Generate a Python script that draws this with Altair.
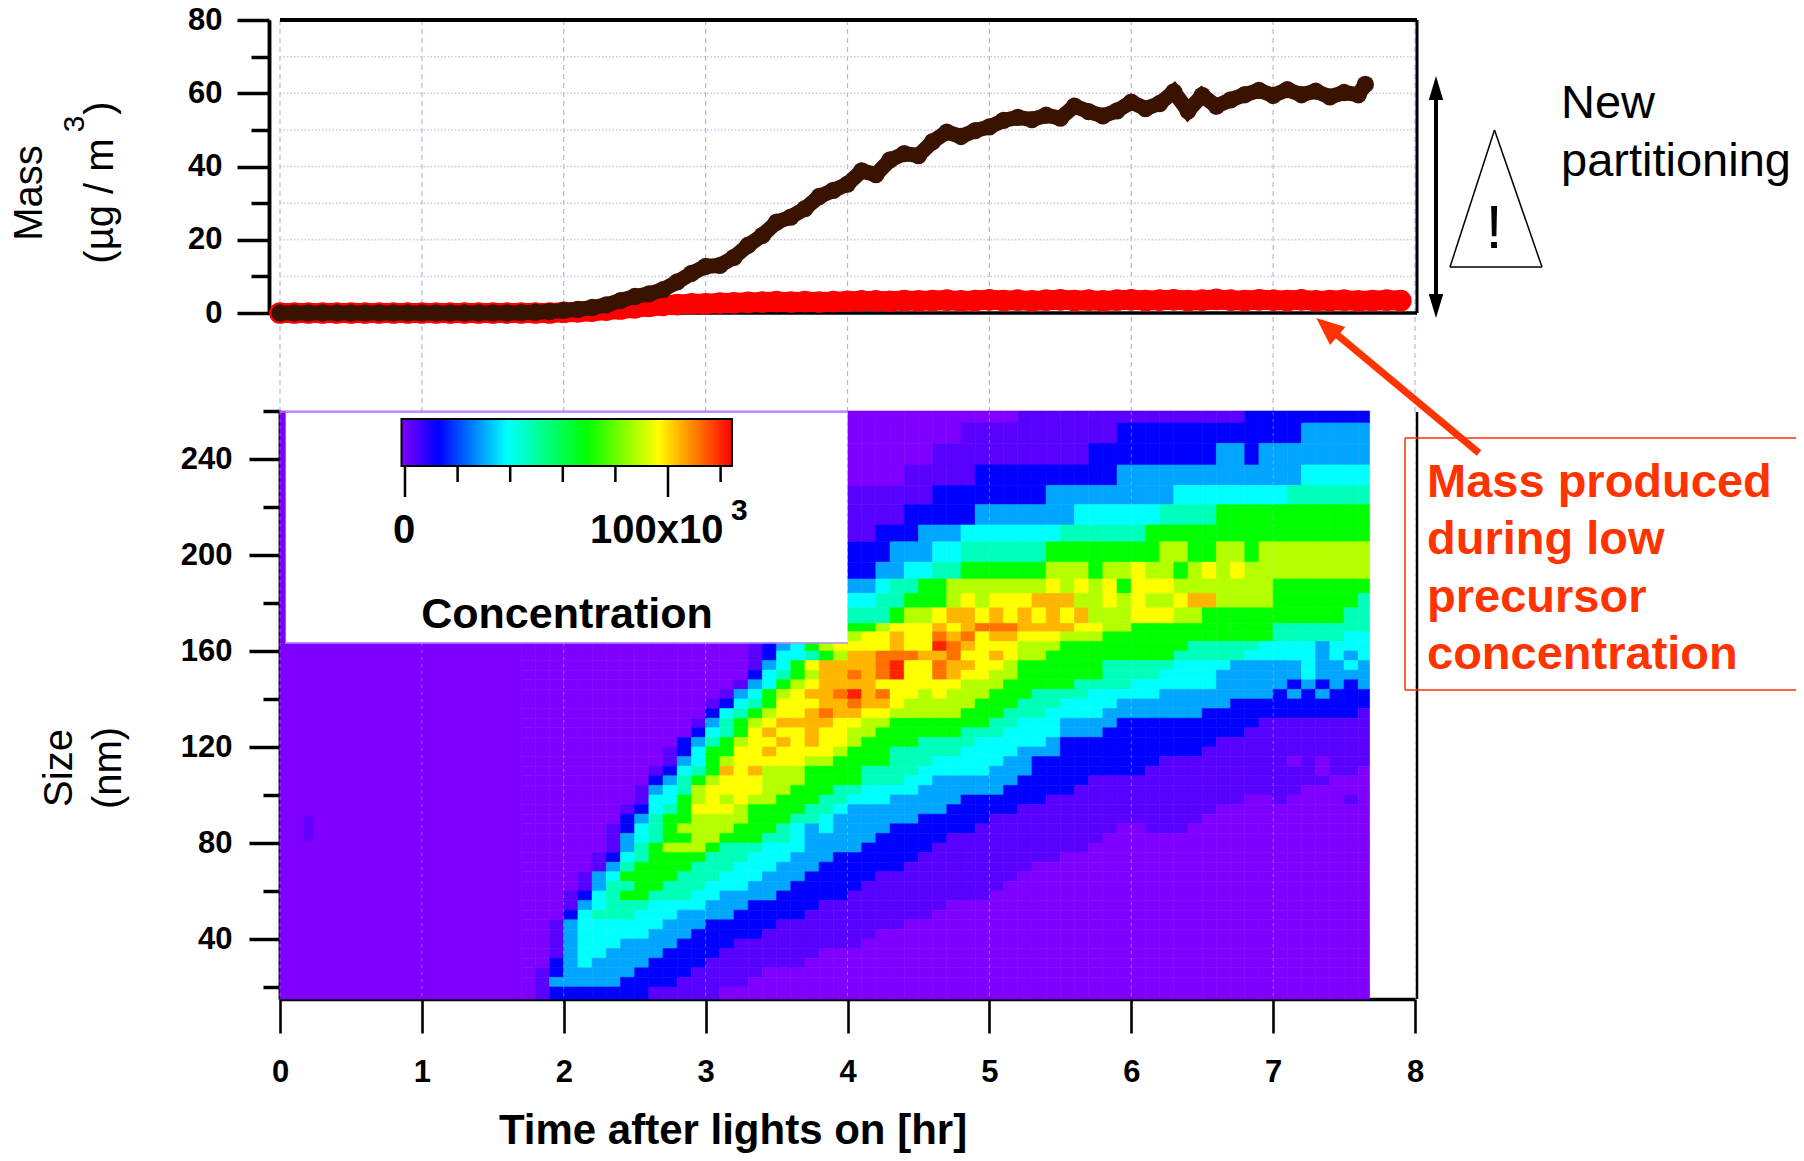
import altair as alt
import pandas as pd

# ---------- top panel values ----------
mass_dark = [0]*17 + [0.1, 0.2, 0.4,
    0.7, 1.0, 1.5, 2.2, 3.4, 4.5, 5.2, 6.4, 8.5, 10.8,
    12.7, 13.0, 15.2, 18.5, 21.2, 24.8, 26.2, 28.5, 31.8, 33.5,
    35.2, 38.8, 37.8, 41.8, 43.5, 43.0, 46.8, 49.4, 48.2, 49.8,
    50.8, 52.6, 53.4, 52.8, 54.0, 53.2, 56.5, 55.0, 53.8, 55.2,
    57.6, 55.8, 57.2, 60.4, 55.2, 59.4, 56.5, 58.2, 59.6, 60.8,
    59.4, 61.0, 59.6, 60.6, 59.0, 60.2, 59.6, 62.4]
mass_red = [0]*20 + [
    0.2, 0.3, 0.5, 0.8, 1.1, 1.4, 1.8, 2.1, 2.3, 2.5,
    2.5, 2.7, 2.8, 2.9, 3.0, 3.1, 3.0, 3.1, 3.0, 3.1,
    3.2, 3.3, 3.3, 3.2, 3.4, 3.3, 3.4, 3.5, 3.3, 3.4,
    3.6, 3.4, 3.5, 3.3, 3.5, 3.6, 3.4, 3.5, 3.3, 3.5,
    3.6, 3.4, 3.5, 3.6, 3.4, 3.5, 3.7, 3.5, 3.4, 3.6,
    3.5, 3.4, 3.6, 3.3, 3.4, 3.5, 3.3, 3.4, 3.5, 3.4]
mass_grid = [10, 20, 30, 40, 50, 60, 70]
mass_major = [0, 20, 40, 60, 80]
mass_minor = [10, 30, 50, 70]

# ---------- bottom panel values (level per 0.1 hr column, t = 1.7 ... 7.6) ----------
size_major = [40, 80, 120, 160, 200, 240]
size_minor = [20, 60, 100, 140, 180, 220, 260]
time_ticks = [0, 1, 2, 3, 4, 5, 6, 7, 8]
levels = {"0": 0, "1": 7, "2": 14, "3": 27, "4": 40, "5": 54, "6": 70,
          "7": 84, "8": 97, "9": 108, "a": 117, "b": 124}
Z = "000 0000000000 "
# (lower size, upper size, levels); short strings are padded with zero on the right
conc_rows = [
    (255, 260, Z + "0000000000 0000000000 0011111111 1111111122 2222222"),
    (246.5, 255, Z + "0000000000 0000000011 1111111112 2222222222 2233333"),
    (237.5, 246.5, Z + "0000000000 0000001111 1111111222 2222223323 3333333"),
    (229, 237.5, Z + "0000000000 0000111112 2222222223 3333333333 3344444"),
    (221, 229, Z + "0000000000 1111112222 2222333333 3334444444 4555555"),
    (212.5, 221, Z + "0000000000 1111222223 3333334444 4455556666 6666666"),
    (205.5, 212.5, Z + "0000000000 1122233344 4444455555 5666666666 6666666"),
    (197, 205.5, Z + "0000000000 2223334455 5555666666 6677667767 7777777"),
    (190, 197, Z + "0000000000 2233445566 6666777677 8776787877 7777777"),
    (184, 190, Z + "0000000000 3345566777 7777878786 8887777777 6666666"),
    (178, 184, Z + "0000000000 4455666787 8889997787 8778997777 6666665"),
    (171.5, 178, Z + "0000000000 5556778998 9898989777 8887766666 6666655"),
    (168, 171.5, Z + "0000002456 667888989a aa99998877 6666666666 5555555"),
    (164, 168, Z + "0000002456 788988a9a8 9988877766 6666666666 5555544"),
    (160, 164, Z + "0001234678 888988ba98 8877766666 6666555554 4443444"),
    (156, 160, Z + "0001244567 99aaa99a88 9877666666 6665555544 4443434"),
    (152, 156, Z + "0001346899 99ab88a998 8766666655 5554444333 3343343"),
    (148, 152, Z + "0002456799 a9ab88a988 7766666655 5544443333 3343333"),
    (144, 148, Z + "0013467899 9988888877 7666665555 4444443333 3232323"),
    (140, 144, Z + "013467899a b9a8878777 6665555444 4433333333 2323222"),
    (136, 140, Z + "1245688899 a998777776 6655544443 3333333222 2222222"),
    (132, 136, Z + "24567889a9 9887777766 6555444433 3333322222 2222221"),
    (128, 132, "000 0000000001 3567899998 8776666666 5544433332 2222222221 1111111"),
    (124, 128, "000 0000000002 4568988988 7766666655 5444433322 2222222211 1111111"),
    (120, 124, "000 0000000023 5678898988 7666655554 4444322222 2222221111 1111111"),
    (116, 120, "000 0000000124 6688988887 6665555544 4433322222 2222211111 1111111"),
    (112, 116, "000 0000000134 6788888776 6665554444 4332222222 2211111111 1010111"),
    (108, 112, "000 0000001245 6989777666 6555544444 3332222222 2111111111 1110110"),
    (104, 108, "000 0000002356 7888777666 6555443333 3322222111 1111111111 1111000"),
    (100, 104, "000 0000013457 8888776665 5444433333 3222221111 1111111111 1100000"),
    (96, 100, "000 0000014467 8787766655 4443333322 2222111111 1111111100 1000010"),
    (92, 96, "000 0000124568 8876666554 3333333222 2211111111 1111110000"),
    (88, 92, "000 0000235667 7776665543 3333322222 1111111111 1111100000"),
    (84, 88, "000 0001245677 7766654343 3332222221 1111111110 0111000000"),
    (80, 84, "000 0001345667 7666554333 3322222111 1111111100"),
    (76, 80, "000 0001356777 6555444333 3222221111 1111111000"),
    (72, 76, "000 0012456666 5554443332 2222211111 1111100000"),
    (68, 72, "000 0013566665 5544433322 2222111111 1110000000"),
    (64, 68, "000 0134666655 5444333222 2211111111 1100000000"),
    (60, 64, "000 0135566555 4443332222 2111111111 1000000000"),
    (56, 60, "000 1245665554 4333322222 1111111111"),
    (52, 56, "000 1345554444 3332222211 1111111000"),
    (48, 52, "000 2455544433 3322222111 1111110000"),
    (44, 48, "001 3444444333 2222211111 1111000000"),
    (40, 44, "001 3444443332 2222111111 1100000000"),
    (36, 40, "001 3444333322 2211111111 1000000000"),
    (32, 36, "001 3443333222 2111111100"),
    (28, 32, "002 3433332222 1111111000"),
    (24, 28, "012 3333322221 1111000000"),
    (20, 24, "013 3333222211 1110000000"),
    (15, 20, "012 2222221111 1000000000"),
]
colorbar_stops = [0, 14, 40, 70, 97, 125]
colorbar_colors = ["#7f00ff", "#0000ff", "#00ffff", "#00ff00", "#ffff00", "#ff0000"]
colorbar_ticks_major = [0, 100]
colorbar_ticks_minor = [20, 40, 60, 80, 120]

# ---------- build tables ----------
dark_df = pd.DataFrame({"t": [round(i * 0.1, 1) for i in range(len(mass_dark) - 1)] + [7.65], "m": mass_dark})
red_df = pd.DataFrame({"t": [round(i * 0.1, 1) for i in range(len(mass_red))], "m": mass_red})

cells = [{"t0": 0, "t1": 1.7, "s0": 15, "s1": 260, "v": 0},
         {"t0": 0.17, "t1": 0.23, "s0": 81, "s1": 91, "v": 5}]
for s0, s1, text in conc_rows:
    text = text.replace(" ", "").ljust(60, "0")
    for i, ch in enumerate(text):
        t0 = round(1.7 + i * 0.1, 1)
        cells.append({"t0": t0, "t1": min(round(t0 + 0.1, 1), 7.68), "s0": s0, "s1": s1, "v": levels[ch]})
cells_df = pd.DataFrame(cells)

one = pd.DataFrame({"a": [0]})

# ---------- scales (plot pixels = page pixels - 8) ----------
X = alt.Scale(domain=[0, 8], range=[272, 1407])
YM = alt.Scale(domain=[0, 80], range=[305, 12])
YS = alt.Scale(domain=[15, 260], range=[991, 403])
COL = alt.Scale(domain=colorbar_stops, range=colorbar_colors)
FONT = "Liberation Sans"
ORANGE = "#ff3300"


def P(v):
    return alt.value(v - 8)


def seg(x0, y0, x1, y1, color="black", w=2.0, **kw):
    return alt.Chart(one).mark_rule(color=color, strokeWidth=w, **kw).encode(
        x=P(x0), y=P(y0), x2=P(x1), y2=P(y1))


def txt(s, x, y, size, weight="normal", color="black", angle=0, align="left", baseline="alphabetic"):
    return alt.Chart(one).mark_text(text=s, font=FONT, fontSize=size, fontWeight=weight, color=color,
                                    angle=angle, align=align, baseline=baseline).encode(x=P(x), y=P(y))


def head(x, y, size, angle=0, color="black", shape="M-0.6,1L0.6,1L0,-1Z"):
    return alt.Chart(one).mark_point(shape=shape, filled=True, color=color, size=size, opacity=1,
                                     angle=angle, strokeWidth=0).encode(x=P(x), y=P(y))


def axis_y(values, tick, labels, offset, padding):
    return alt.Axis(values=values, title=None, orient="left", offset=offset, grid=False, tickSize=tick,
                    tickWidth=3.5, tickColor="black", domain=True, domainColor="black", domainWidth=3.5,
                    labels=labels, labelFont=FONT, labelFontWeight="bold", labelFontSize=31,
                    labelColor="black", labelPadding=padding, labelOverlap=False, labelFlush=False)


# ---------- layers ----------
heat = alt.Chart(cells_df).mark_rect(strokeWidth=0.6).encode(
    x=alt.X("t0:Q", scale=X, axis=alt.Axis(
        values=time_ticks, title=None, orient="bottom", offset=-154, grid=False, tickSize=34, tickWidth=2.6,
        tickColor="black", domainColor="black", domainWidth=3.5, labelFont=FONT, labelFontWeight="bold",
        labelFontSize=31, labelColor="black", labelPadding=24, labelFlush=False)),
    x2="t1:Q",
    y=alt.Y("s0:Q", scale=YS, axis=axis_y(size_major, 31, True, -272, 17)),
    y2="s1:Q",
    color=alt.Color("v:Q", scale=COL, legend=None),
    stroke=alt.Stroke("v:Q", scale=COL, legend=None),
)

size_minor_axis = alt.Chart(pd.DataFrame({"s": size_minor})).mark_tick(opacity=0).encode(
    y=alt.Y("s:Q", scale=YS, axis=axis_y(size_minor, 17, False, -272, 17)))

grid_over_heat = alt.Chart(pd.DataFrame({"t": time_ticks})).mark_rule(
    color="#d8b8ff", strokeWidth=1, strokeDash=[3, 4], opacity=0.45).encode(
    x=alt.X("t:Q", scale=X, axis=None), y=P(412), y2=P(999))
grid_v = alt.Chart(pd.DataFrame({"t": time_ticks})).mark_rule(
    color="#b4b4ec", strokeWidth=1.2, strokeDash=[5, 4]).encode(
    x=alt.X("t:Q", scale=X, axis=None), y=P(20), y2=P(412))
grid_h = alt.Chart(pd.DataFrame({"m": mass_grid})).mark_rule(
    color="#c6c6f2", strokeWidth=1.5, strokeDash=[1.5, 2]).encode(
    y=alt.Y("m:Q", scale=YM, axis=axis_y(mass_minor, 18, False, -261, 15)), x=P(280), x2=P(1415))
mass_axis = alt.Chart(pd.DataFrame({"m": mass_major})).mark_tick(opacity=0).encode(
    y=alt.Y("m:Q", scale=YM, axis=axis_y(mass_major, 32, True, -261, 15)))

inset = alt.Chart(pd.DataFrame({"t0": [0.04], "t1": [4.0], "s0": [163.5], "s1": [260]})).mark_rect(
    color="white", strokeWidth=0).encode(
    x=alt.X("t0:Q", scale=X, axis=None), x2="t1:Q",
    y=alt.Y("s0:Q", scale=YS, axis=None), y2="s1:Q")

colorbar = alt.Chart(one).mark_rect(
    fill=alt.LinearGradient(
        gradient="linear", x1=0, x2=1, y1=0, y2=0,
        stops=[alt.GradientStop(color=c, offset=s / 125) for s, c in zip(colorbar_stops, colorbar_colors)]),
    stroke="black", strokeWidth=2).encode(x=P(401.5), x2=P(732), y=P(419), y2=P(466))


def circles(df, color, size, line):
    base = alt.Chart(df).encode(
        x=alt.X("t:Q", scale=X, axis=None),
        y=alt.Y("m:Q", scale=YM, axis=None))
    return base.mark_line(color=color, strokeWidth=line) + \
        base.mark_circle(color=color, size=size, opacity=1)


cbar_ticks = []
for v in colorbar_ticks_major:
    cbar_ticks.append(seg(405 + v * 2.63, 466, 405 + v * 2.63, 497, w=2.5))
for v in colorbar_ticks_minor:
    cbar_ticks.append(seg(405 + v * 2.63, 466, 405 + v * 2.63, 482, w=2.5))

layers = [
    grid_v, grid_h, mass_axis,
    seg(280, 20, 1417, 20, w=4), seg(1417, 20, 1417, 313, w=3), seg(269, 313, 1417, 313, w=3.5),
    heat, size_minor_axis, grid_over_heat, inset,
    seg(280, 412, 848, 412, color="#a56cff", w=1.5), seg(285, 643, 848, 643, color="#b48cff", w=1.5),
    seg(1417, 412, 1417, 999, w=2.5),
    colorbar, *cbar_ticks,
    txt("0", 404, 543, 40, weight="bold", align="center"),
    txt("100x10", 590, 543, 40, weight="bold"),
    txt("3", 731, 520, 30, weight="bold"),
    txt("Concentration", 567, 628, 43, weight="bold", align="center"),
    circles(red_df, "#ff0000", 470, 20), circles(dark_df, "#3a1300", 300, 15),
    txt("Mass", 30, 193, 40, angle=270, align="center", baseline="middle"),
    txt("(µg / m", 101, 201, 40, angle=270, align="center", baseline="middle"),
    txt("3", 75, 124, 30, angle=270, align="center", baseline="middle"),
    txt(")", 101, 108, 40, angle=270, align="center", baseline="middle"),
    txt("Size", 60, 768, 40, angle=270, align="center", baseline="middle"),
    txt("(nm)", 109, 768, 40, angle=270, align="center", baseline="middle"),
    txt("Time after lights on [hr]", 733, 1144, 42, weight="bold", align="center"),
    # double arrow, warning triangle, labels
    seg(1436, 90, 1436, 304, w=4),
    head(1436, 88, 576), head(1436, 306, 576, angle=180),
    seg(1494.5, 130, 1450, 267, w=1.5), seg(1494.5, 130, 1542, 267, w=1.5), seg(1450, 267, 1542, 267, w=1.5),
    txt("!", 1494, 248, 62, align="center"),
    txt("New", 1561, 118, 47), txt("partitioning", 1561, 176, 47),
    # red box and arrow
    seg(1405, 438, 1796, 438, color=ORANGE, w=1.5), seg(1405, 690, 1796, 690, color=ORANGE, w=1.5),
    seg(1405, 438, 1405, 690, color=ORANGE, w=1.5),
    seg(1479, 453, 1335, 333, color=ORANGE, w=7),
    head(1327, 327, 784, angle=310, color=ORANGE, shape="M-0.85,1L0.85,1L0,-1Z"),
    txt("Mass produced", 1427, 497, 47, weight="bold", color=ORANGE),
    txt("during low", 1427, 554, 47, weight="bold", color=ORANGE),
    txt("precursor", 1427, 612, 47, weight="bold", color=ORANGE),
    txt("concentration", 1427, 669, 47, weight="bold", color=ORANGE),
]

chart = alt.layer(*layers).resolve_scale(y="independent").resolve_axis(x="independent").properties(
    width=1788, height=1145, padding=0, background="white", autosize=alt.AutoSizeParams(type="none")
).configure_view(stroke=None)

chart.save("out.html", embed_options={"renderer": "svg", "actions": False})
